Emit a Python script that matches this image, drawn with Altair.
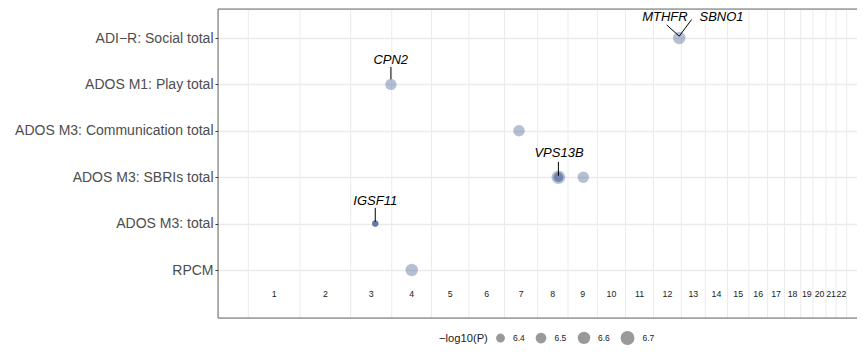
import altair as alt
import pandas as pd

# ---------------- data ----------------
chrom_names = [str(i) for i in range(1, 23)]
chrom_len_mb = [249.25, 243.20, 198.02, 191.15, 180.92, 171.12, 159.14, 146.36,
                141.21, 135.53, 135.01, 133.85, 115.17, 107.35, 102.53, 90.35,
                81.20, 78.08, 59.13, 63.03, 48.13, 51.30]

# bottom to top
phenotypes = ["RPCM", "ADOS M3: total", "ADOS M3: SBRIs total",
              "ADOS M3: Communication total", "ADOS M1: Play total",
              "ADI\u2212R: Social total"]

snp_pheno = ["ADI\u2212R: Social total", "ADOS M1: Play total",
             "ADOS M3: Communication total",
             "ADOS M3: SBRIs total", "ADOS M3: SBRIs total", "ADOS M3: SBRIs total",
             "ADOS M3: SBRIs total",
             "ADOS M3: total", "ADOS M3: total", "ADOS M3: total", "ADOS M3: total",
             "RPCM"]
snp_chrom = [12, 3, 7, 8, 8, 8, 9, 3, 3, 3, 3, 4]
snp_pos_mb = [123.8, 194.06, 69.7, 100.1, 100.3, 100.5, 73.7,
              118.62, 118.66, 118.70, 118.74, 96.2]
snp_logp = [6.60, 6.53, 6.54, 6.68, 6.44, 6.42, 6.54,
            6.29, 6.30, 6.29, 6.30, 6.60]

label_gene = ["MTHFR", "SBNO1", "CPN2", "VPS13B", "IGSF11"]
label_pheno = ["ADI\u2212R: Social total", "ADI\u2212R: Social total",
               "ADOS M1: Play total", "ADOS M3: SBRIs total", "ADOS M3: total"]
label_chrom = [12, 12, 3, 8, 3]
label_pos_mb = [123.8, 123.8, 194.06, 100.1, 118.68]
# repelled label offsets (Mb along genome, rows along y)
label_dx = [-68.9, 203.6, -0.9, 2.9, 0.0]
label_dy = [0.45, 0.45, 0.53, 0.52, 0.49]
seg_dx = [-60.3, 60.1, 0.0, 0.0, 0.0]
seg_dy0 = [0.28, 0.40, 0.375, 0.33, 0.34]
seg_dy1 = [0.04, 0.04, 0.11, 0.03, 0.04]

legend_values = [6.4, 6.5, 6.6, 6.7]

# ---------------- derived tables ----------------
offsets = []
acc = 0.0
for L in chrom_len_mb:
    offsets.append(acc)
    acc += L
genome_end = acc

def cum(ch, pos):
    return offsets[ch - 1] + pos

def row(p):
    return phenotypes.index(p) + 1

pts = pd.DataFrame({
    "pheno": snp_pheno,
    "x": [cum(c, p) for c, p in zip(snp_chrom, snp_pos_mb)],
    "y": [row(p) for p in snp_pheno],
    "logp": snp_logp,
})

# legend-only key table (drawn outside the clipped plot area)
key_df = pd.DataFrame({"logp": legend_values, "x": [-1000.0] * 4, "y": [3.0] * 4})

bounds = pd.DataFrame({"x": offsets + [genome_end]})

chrlab = pd.DataFrame({
    "chrom": chrom_names,
    "x": [o + L / 2 for o, L in zip(offsets, chrom_len_mb)],
    "y": [0.483] * len(chrom_names),
})

lx = [cum(c, p) for c, p in zip(label_chrom, label_pos_mb)]
ly = [row(p) for p in label_pheno]
labs = pd.DataFrame({
    "gene": label_gene,
    "x": [a + d for a, d in zip(lx, label_dx)],
    "y": [a + d for a, d in zip(ly, label_dy)],
})
segs = pd.DataFrame({
    "x": [a + d for a, d in zip(lx, seg_dx)],
    "x2": lx,
    "y": [a + d for a, d in zip(ly, seg_dy0)],
    "y2": [a + d for a, d in zip(ly, seg_dy1)],
})

# ---------------- scales ----------------
W, H = 639, 309
xs = alt.Scale(domain=[-146, 2930.5], nice=False, zero=False)
ys = alt.Scale(domain=[-0.034, 6.625], nice=False, zero=False)
ss = alt.Scale(domain=[6.2, 6.8], range=[1.7, 232])

label_expr = ("[" + ",".join("'" + p + "'" for p in phenotypes) + "][datum.value-1]")

legend = alt.Legend(title="\u2212log10(P)", values=legend_values,
                    orient="none", direction="horizontal",
                    titleOrient="left", legendX=221, legendY=321,
                    symbolType="circle",
                    labelFontSize=8.5, titleFontSize=11.2,
                    titleFontWeight="normal", titleFont="Liberation Sans",
                    labelFont="Liberation Sans", labelColor="#1A1A1A",
                    titleColor="#1A1A1A", labelOffset=7,
                    columnPadding=7.5, titlePadding=7)

frame_df = pd.DataFrame({"k": [0]})
FRAME = "#6E6E6E"
top_line = alt.Chart(frame_df).mark_rule(color=FRAME, strokeWidth=1).encode(
    x=alt.value(0), x2=alt.value(W), y=alt.value(0))
bottom_line = alt.Chart(frame_df).mark_rule(color=FRAME, strokeWidth=1).encode(
    x=alt.value(0), x2=alt.value(W), y=alt.value(H))
left_line = alt.Chart(frame_df).mark_rule(color=FRAME, strokeWidth=1).encode(
    x=alt.value(0), y=alt.value(0), y2=alt.value(H))

base_y = alt.Y("y:Q", scale=ys, title=None,
               axis=alt.Axis(values=[1, 2, 3, 4, 5, 6], labelExpr=label_expr,
                             grid=True, gridColor="#EBEBEB", gridWidth=1.5,
                             domain=False, ticks=True, tickSize=3,
                             tickColor="#333333", labelColor="#4D4D4D",
                             labelFontSize=14, labelFont="Liberation Sans",
                             labelPadding=2, labelLimit=0))

keylayer = alt.Chart(key_df).mark_circle(color="#999999", opacity=1, clip=True).encode(
    x=alt.X("x:Q", scale=xs, axis=None),
    y=base_y,
    size=alt.Size("logp:Q", scale=ss, legend=legend),
)

vgrid = alt.Chart(bounds).mark_rule(color="#EBEBEB", strokeWidth=1).encode(
    x=alt.X("x:Q", scale=xs, axis=None),
    y=alt.value(0), y2=alt.value(H),
)

points = alt.Chart(pts).mark_circle(color="#52689A", opacity=0.42).encode(
    x=alt.X("x:Q", scale=xs, axis=None),
    y=alt.Y("y:Q", scale=ys),
    size=alt.Size("logp:Q", scale=ss, legend=legend),
)

chrtext = alt.Chart(chrlab).mark_text(fontSize=8.8, font="Liberation Sans",
                                      color="#1A1A1A", baseline="middle").encode(
    x=alt.X("x:Q", scale=xs, axis=None),
    y=alt.Y("y:Q", scale=ys),
    text="chrom:N",
)

segments = alt.Chart(segs).mark_rule(color="#000000", strokeWidth=1).encode(
    x=alt.X("x:Q", scale=xs, axis=None), x2="x2:Q",
    y=alt.Y("y:Q", scale=ys), y2="y2:Q",
)

genetext = alt.Chart(labs).mark_text(fontSize=13, font="Liberation Sans",
                                     fontStyle="italic", color="#000000",
                                     baseline="middle", align="center").encode(
    x=alt.X("x:Q", scale=xs, axis=None),
    y=alt.Y("y:Q", scale=ys),
    text="gene:N",
)

chart = alt.layer(keylayer, vgrid, points, chrtext, segments, genetext,
                  top_line, bottom_line, left_line).properties(
    width=W, height=H,
    autosize=alt.AutoSizeParams(type="none"),
    padding={"left": 210, "top": 1, "right": 0, "bottom": 30},
).configure_view(strokeWidth=0).configure(background="white")

chart.save("out.html", embed_options={"renderer": "svg", "actions": False})
